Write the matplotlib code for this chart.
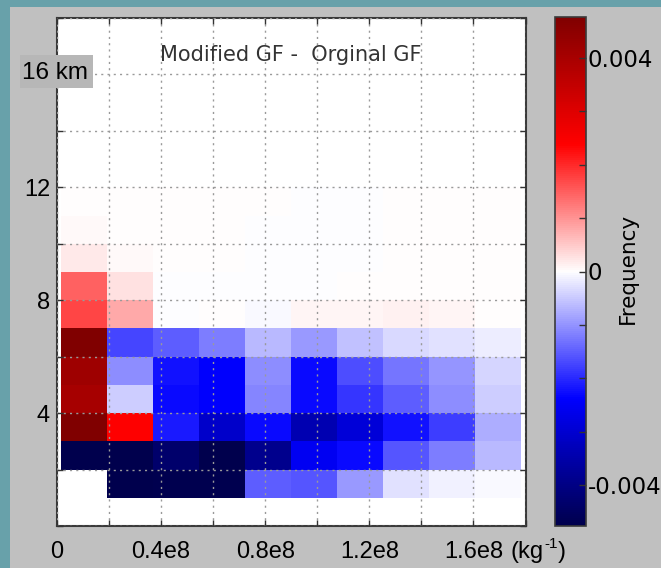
import numpy as np
import matplotlib
matplotlib.use("Agg")
import matplotlib.pyplot as plt
from matplotlib.patches import Rectangle

plt.rcParams['axes.unicode_minus'] = False

# ---------------- data ----------------
# bin edges of the 2-D histogram (x: per-kg number, y: altitude in km)
x_edges = [0.0135e8, 0.1906e8, 0.3677e8, 0.5448e8, 0.7219e8, 0.8990e8,
           1.0761e8, 1.2532e8, 1.4303e8, 1.6074e8, 1.7845e8]
y_edges = [1, 2, 3, 4, 5, 6, 7, 8, 9, 10, 11, 12]

nan = np.nan
# frequency difference (Modified GF - Original GF), one list per altitude bin
row_01_02 = [nan, -0.0048, -0.0047, -0.0047, -0.0015, -0.0016, -0.00095, -0.00029, -0.00014, -0.00005]
row_02_03 = [-0.0048, -0.0048, -0.00436, -0.0048, -0.0039, -0.00255, -0.0023, -0.0016, -0.0012, -0.00067]
row_03_04 = [0.0048, 0.00239, -0.00215, -0.00306, -0.0023, -0.0034, -0.0029, -0.0022, -0.0018, -0.00076]
row_04_05 = [0.00405, -0.00048, -0.0023, -0.0024, -0.00115, -0.0023, -0.0019, -0.0015, -0.00107, -0.00048]
row_05_06 = [0.0042, -0.00107, -0.0022, -0.0024, -0.00107, -0.0023, -0.00167, -0.0013, -0.0010, -0.0004]
row_06_07 = [0.0048, -0.00174, -0.0015, -0.0012, -0.00064, -0.00095, -0.00057, -0.00036, -0.00029, -0.00017]
row_07_08 = [0.00174, 0.00079, -0.00001, 0.0, -0.00007, 0.0001, 0.0001, 0.00012, 0.0001, 0.0]
row_08_09 = [0.00148, 0.00029, -0.00003, -0.00003, -0.00003, -0.00002, 0.0, 0.0, 0.0, 0.0]
row_09_10 = [0.00019, 0.00007, 0.0, 0.0, -0.00002, -0.00002, -0.00002, 0.0, 0.0, 0.0]
row_10_11 = [0.00004, 0.00003, 0.00002, 0.00001, -0.00001, -0.00001, -0.00001, 0.0, 0.0, 0.0]
row_11_12 = [0.00003, 0.00003, 0.00002, 0.00001, 0.0, -0.00001, -0.00001, 0.0, 0.0, 0.0]

x_tick_values = [0, 0.4e8, 0.8e8, 1.2e8, 1.6e8]
x_tick_labels = ["0", "0.4e8", "0.8e8", "1.2e8", "1.6e8"]
x_unit_parts = ["(kg", "-1", ")"]
y_tick_values = [4, 8, 12]
y_tick_labels = ["4", "8", "12"]
y_top_label = "16 km"
cbar_tick_labels = ["-0.004", "", "", "", "0", "", "", "", "0.004"]
vlim = 0.00477

title = "Modified GF -  Orginal GF"
cbar_label = "Frequency"

# ---------------- figure ----------------
BG = '#c0c0c0'
TEAL = '#68a1aa'
W, H = 661, 568
fig = plt.figure(figsize=(W/100, H/100), dpi=100, facecolor=BG)
fig.patches.append(Rectangle((0, 0), 10/W, 1, transform=fig.transFigure,
                             facecolor=TEAL, edgecolor='none', zorder=0))
fig.patches.append(Rectangle((0, 1 - 7/H), 1, 7/H, transform=fig.transFigure,
                             facecolor=TEAL, edgecolor='none', zorder=0))

ax = fig.add_axes([57/W, 1 - 526/H, 468.5/W, 508/H])
cax = fig.add_axes([555/W, 1 - 526/H, 31/W, 509/H])

Z = np.ma.masked_invalid(np.array([row_01_02, row_02_03, row_03_04, row_04_05,
                                   row_05_06, row_06_07, row_07_08, row_08_09,
                                   row_09_10, row_10_11, row_11_12]))
mesh = ax.pcolormesh(x_edges, y_edges, Z, cmap='seismic', vmin=-vlim, vmax=vlim,
                     shading='flat')

ax.set_xlim(0, 1.8e8)
ax.set_ylim(0, 18)
ax.set_facecolor('white')

xt = np.arange(0, 1.81e8, 0.2e8)
ax.set_xticks(xt)
lab_x = []
for t in xt:
    match = [l for v, l in zip(x_tick_values, x_tick_labels) if abs(v - t) < 1e5]
    lab_x.append(match[0] if match else "")
ax.set_xticklabels(lab_x)
yt = np.arange(0, 18.1, 2)
ax.set_yticks(yt)
lab_y = []
for t in yt:
    match = [l for v, l in zip(y_tick_values, y_tick_labels) if abs(v - t) < 1e-6]
    lab_y.append(match[0] if match else "")
ax.set_yticklabels(lab_y)

ax.set_axisbelow(False)
ax.grid(True, color='#9a9a9a', linestyle=(0, (1.5, 3)), linewidth=1.0)
ax.tick_params(direction='in', length=4, width=1, color='#333333',
               top=True, right=True)
ax.tick_params(axis='x', pad=11, labelsize=17)
ax.tick_params(axis='y', pad=5, labelsize=17)
for lab in ax.get_xticklabels() + ax.get_yticklabels():
    lab.set_fontfamily('Liberation Sans')
for s in ax.spines.values():
    s.set_color('#3a3a3a')
    s.set_linewidth(1.5)

# unit "(kg-1)" after the last x tick label, on the tick-label baseline
base = -23.0
ax.annotate(x_unit_parts[0], xy=(1.6e8, 0), xycoords=('data', 'axes fraction'),
            xytext=(27, base), textcoords='offset points', ha='left', va='baseline',
            fontsize=17, family='Liberation Sans', annotation_clip=False)
ax.annotate(x_unit_parts[1], xy=(1.6e8, 0), xycoords=('data', 'axes fraction'),
            xytext=(50.8, base + 7.5), textcoords='offset points', ha='left', va='baseline',
            fontsize=11, family='Liberation Sans', annotation_clip=False)
ax.annotate(x_unit_parts[2], xy=(1.6e8, 0), xycoords=('data', 'axes fraction'),
            xytext=(60.6, base), textcoords='offset points', ha='left', va='baseline',
            fontsize=17, family='Liberation Sans', annotation_clip=False)

# "16 km" label on a grey box
fig.patches.append(Rectangle((20/W, 1 - 88/H), 73/W, 33/H, transform=fig.transFigure,
                             facecolor='#b7b7b7', edgecolor='none', zorder=3))
fig.text(22/W, 1 - 73/H, y_top_label, ha='left', va='center', fontsize=17.5,
         family='Liberation Sans', zorder=4)

ax.text(0.5, 0.927, title, transform=ax.transAxes, ha='center', va='center',
        fontsize=15, color='#333333', family='DejaVu Sans')

# colorbar
cb = fig.colorbar(mesh, cax=cax)
cb.set_ticks(np.arange(-0.004, 0.00401, 0.001))
cb.set_ticklabels(cbar_tick_labels)
cax.tick_params(direction='in', length=5, width=1, color='#333333',
                labelsize=16.5, pad=1)
for lab in cax.get_yticklabels():
    lab.set_fontfamily('DejaVu Sans')
cb.outline.set_edgecolor('#3a3a3a')
cb.outline.set_linewidth(1.2)
fig.text(628/W, 1 - 268/H, cbar_label, rotation=90, ha='center', va='center',
         fontsize=15.5, family='DejaVu Sans')

fig.savefig('out.png', dpi=100, facecolor=BG)
